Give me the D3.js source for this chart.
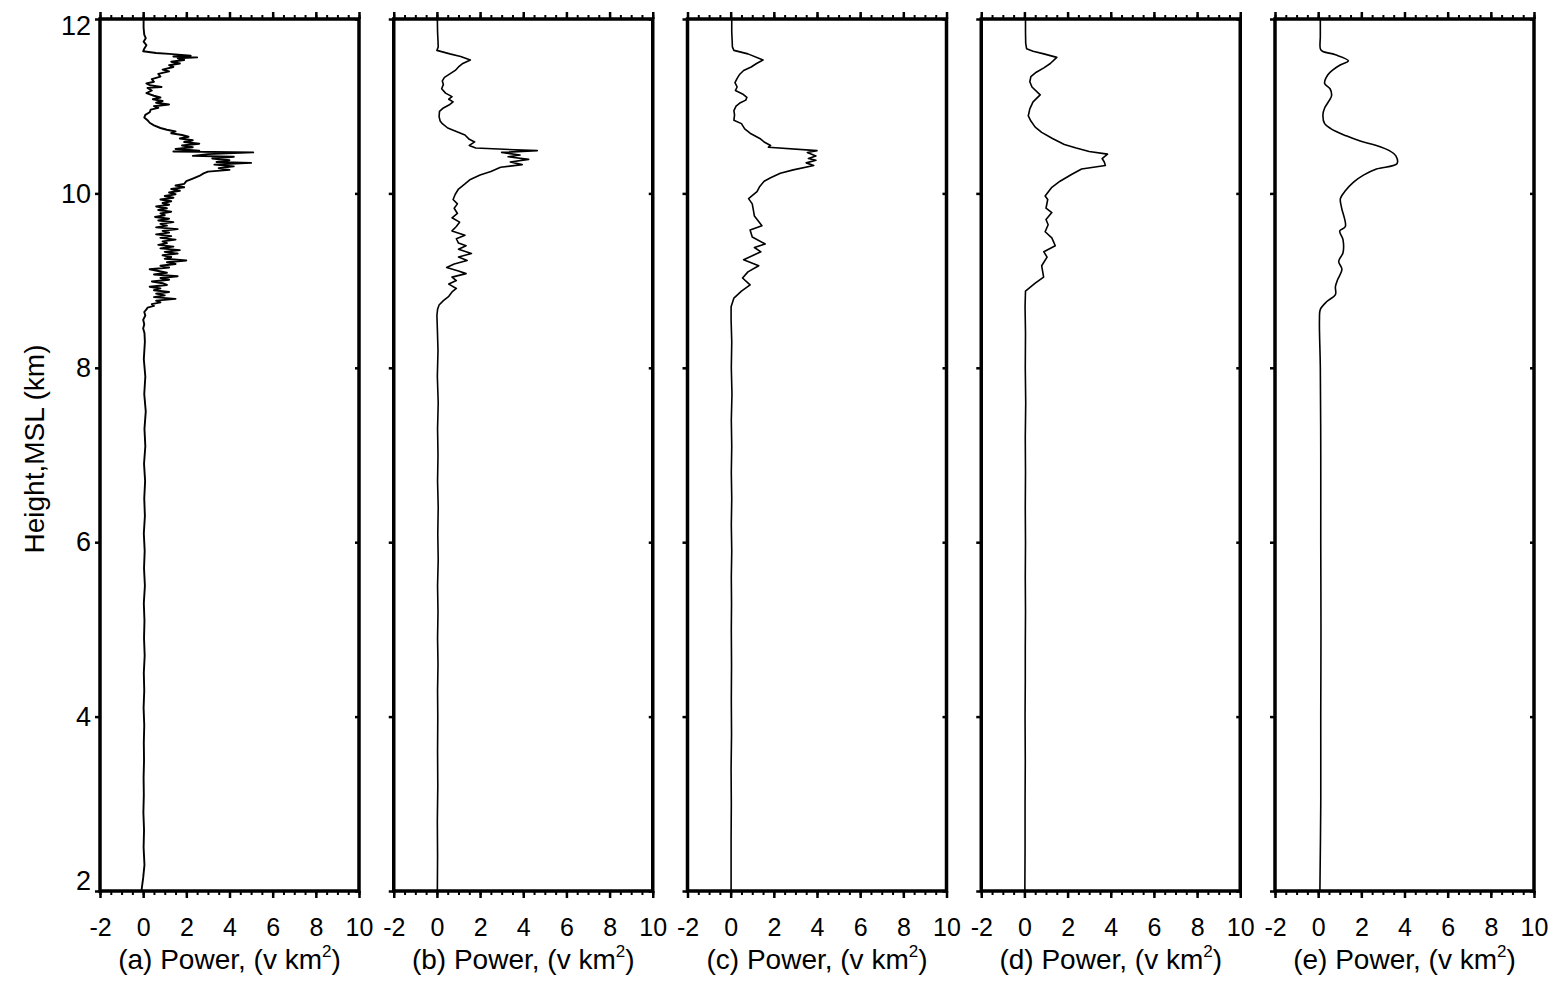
<!DOCTYPE html>
<html>
<head>
<meta charset="utf-8">
<script src="https://cdn.jsdelivr.net/npm/d3@7"></script>
<style>
  body { margin: 0; background: #fff; }
  svg { display: block; }
  text { font-family: "Liberation Sans", Arial, Helvetica, sans-serif; fill: #000; }
</style>
</head>
<body>
<svg id="chart" width="1560" height="981"></svg>
<script>
// Panel letters and axis ticks
const panelLetters = ["a", "b", "c", "d", "e"];
const powerTicks = [-2, 0, 2, 4, 6, 8, 10];
const heightTicks = [2, 4, 6, 8, 10, 12];

// Vertical power profiles, [height km MSL, power v km^2], top to bottom
const profileA = [
  [12.00, 0.02], [11.90, 0.02], [11.82, 0.05], [11.78, 0.12], [11.74, 0.02], [11.70, 0.15],
  [11.66, 0.05], [11.63, 0.00], [11.61, 0.6], [11.60, 1.2], [11.58, 2.2], [11.57, 1.4],
  [11.56, 2.5], [11.55, 1.6], [11.53, 1.9], [11.51, 1.3], [11.49, 1.7], [11.47, 1.2],
  [11.45, 1.4], [11.42, 0.9], [11.40, 1.2], [11.37, 0.7], [11.34, 0.8], [11.31, 0.4],
  [11.28, 0.5], [11.26, 0.15], [11.24, 0.3], [11.22, 0.85], [11.21, 0.2], [11.18, 0.4],
  [11.15, 0.15], [11.12, 0.5], [11.10, 0.8], [11.08, 0.45], [11.06, 0.9], [11.04, 0.6],
  [11.02, 1.2], [11.00, 0.5], [10.98, 0.7], [10.96, 0.35], [10.93, 0.3], [10.90, 0.1],
  [10.87, 0.05], [10.84, 0.2], [10.81, 0.3], [10.78, 0.5], [10.75, 0.8], [10.73, 1.1],
  [10.71, 1.5], [10.69, 1.3], [10.67, 1.8], [10.65, 2.1], [10.63, 1.7], [10.61, 2.3],
  [10.59, 1.9], [10.57, 2.6], [10.55, 1.8], [10.53, 2.3], [10.51, 1.5], [10.49, 2.6],
  [10.48, 1.4], [10.47, 5.1], [10.45, 3.0], [10.43, 2.3], [10.42, 4.2], [10.40, 3.2],
  [10.38, 4.0], [10.36, 3.4], [10.35, 5.0], [10.33, 3.3], [10.31, 4.2], [10.29, 3.5],
  [10.27, 4.0], [10.25, 3.0], [10.23, 2.8], [10.20, 2.6], [10.17, 2.3], [10.14, 2.0],
  [10.11, 1.9], [10.09, 1.5], [10.07, 1.9], [10.05, 1.3], [10.03, 1.7], [10.01, 1.2],
  [9.99, 1.5], [9.97, 1.0], [9.95, 1.4], [9.93, 0.8], [9.91, 1.3], [9.89, 0.9],
  [9.87, 1.2], [9.85, 0.6], [9.83, 1.1], [9.81, 0.7], [9.79, 1.3], [9.77, 0.8],
  [9.75, 1.0], [9.73, 0.55], [9.71, 1.2], [9.69, 0.7], [9.67, 1.4], [9.65, 0.8],
  [9.63, 1.1], [9.61, 0.6], [9.59, 1.6], [9.57, 0.9], [9.55, 1.2], [9.53, 0.6],
  [9.51, 1.3], [9.49, 0.8], [9.47, 1.5], [9.45, 0.9], [9.43, 1.1], [9.41, 0.7],
  [9.39, 1.4], [9.37, 0.8], [9.35, 1.7], [9.33, 1.0], [9.31, 1.6], [9.29, 0.9],
  [9.27, 1.3], [9.25, 1.0], [9.23, 2.0], [9.21, 1.1], [9.19, 1.5], [9.17, 0.8],
  [9.15, 1.2], [9.13, 0.3], [9.11, 0.7], [9.09, 1.1], [9.07, 0.5], [9.05, 1.6],
  [9.03, 0.8], [9.01, 1.2], [8.99, 0.4], [8.97, 0.9], [8.95, 1.1], [8.93, 0.3],
  [8.91, 0.8], [8.89, 0.5], [8.87, 1.2], [8.85, 0.6], [8.83, 1.0], [8.81, 0.5],
  [8.79, 1.5], [8.77, 0.6], [8.75, 0.8], [8.73, 0.4], [8.71, 0.5], [8.69, 0.2],
  [8.67, 0.15], [8.64, 0.05], [8.60, 0.1], [8.55, 0.0], [8.50, 0.05], [8.45, 0.0],
  [8.40, 0.06], [8.30, 0.08], [8.10, 0.03], [7.90, 0.10], [7.70, 0.05], [7.50, 0.12],
  [7.30, 0.06], [7.10, 0.10], [6.90, 0.04], [6.70, 0.09], [6.50, 0.05], [6.30, 0.08],
  [6.10, 0.03], [5.90, 0.07], [5.70, 0.04], [5.50, 0.08], [5.30, 0.03], [5.10, 0.06],
  [4.90, 0.04], [4.70, 0.07], [4.50, 0.03], [4.30, 0.05], [4.10, 0.02], [3.90, 0.05],
  [3.70, 0.03], [3.50, 0.04], [3.30, 0.02], [3.10, 0.03], [2.90, 0.01], [2.70, 0.04],
  [2.50, 0.02], [2.30, 0.06], [2.15, 0.0], [2.00, -0.08]
];

const profileB = [
  [12.00, 0.02], [11.85, 0.03], [11.75, 0.05], [11.68, 0.06], [11.64, 0.00], [11.60, 0.6],
  [11.57, 1.1], [11.53, 1.55], [11.49, 1.2], [11.45, 1.0], [11.41, 0.85], [11.37, 0.6],
  [11.33, 0.35], [11.29, 0.25], [11.25, 0.3], [11.20, 0.22], [11.15, 0.4], [11.11, 0.7],
  [11.08, 0.55], [11.05, 0.75], [11.02, 0.6], [10.98, 0.3], [10.94, 0.12], [10.88, 0.1],
  [10.83, 0.15], [10.80, 0.25], [10.75, 0.5], [10.71, 0.9], [10.67, 1.3], [10.62, 1.5],
  [10.59, 1.75], [10.55, 1.5], [10.52, 1.8], [10.49, 4.65], [10.47, 3.0], [10.44, 3.85],
  [10.42, 3.3], [10.39, 4.25], [10.36, 3.4], [10.33, 3.95], [10.30, 2.95], [10.25, 2.5],
  [10.21, 2.0], [10.16, 1.55], [10.11, 1.3], [10.05, 1.0], [9.99, 0.85], [9.93, 0.75],
  [9.88, 0.95], [9.83, 0.8], [9.77, 0.95], [9.72, 0.7], [9.67, 1.05], [9.62, 0.9],
  [9.57, 0.7], [9.52, 1.3], [9.48, 0.9], [9.43, 1.0], [9.40, 1.35], [9.36, 1.0],
  [9.31, 1.6], [9.27, 1.0], [9.23, 1.4], [9.19, 0.8], [9.15, 0.45], [9.11, 1.0],
  [9.08, 1.35], [9.04, 0.7], [9.00, 0.9], [8.96, 0.55], [8.91, 0.9], [8.87, 0.7],
  [8.82, 0.55], [8.77, 0.3], [8.72, 0.1], [8.67, 0.03], [8.60, 0.0], [8.45, 0.02],
  [8.20, 0.05], [7.90, 0.02], [7.60, 0.06], [7.30, 0.03], [7.00, 0.05], [6.70, 0.03],
  [6.40, 0.06], [6.10, 0.04], [5.80, 0.06], [5.50, 0.03], [5.20, 0.05], [4.90, 0.03],
  [4.60, 0.05], [4.30, 0.03], [4.00, 0.04], [3.60, 0.03], [3.20, 0.04], [2.80, 0.02],
  [2.40, 0.03], [2.00, 0.02]
];

const profileC = [
  [12.00, 0.05], [11.85, 0.05], [11.75, 0.07], [11.68, 0.08], [11.64, 0.15], [11.60, 0.8],
  [11.53, 1.5], [11.49, 1.2], [11.45, 0.95], [11.41, 0.6], [11.36, 0.4], [11.32, 0.3],
  [11.27, 0.2], [11.22, 0.3], [11.18, 0.22], [11.14, 0.55], [11.10, 0.75], [11.07, 0.7],
  [11.04, 0.45], [11.00, 0.25], [10.95, 0.15], [10.90, 0.18], [10.84, 0.15], [10.80, 0.5],
  [10.74, 0.65], [10.69, 0.9], [10.63, 1.35], [10.59, 1.55], [10.55, 1.85], [10.53, 1.75],
  [10.49, 4.0], [10.47, 3.55], [10.43, 3.95], [10.40, 3.6], [10.38, 3.95], [10.35, 3.5],
  [10.32, 3.85], [10.27, 2.9], [10.23, 2.3], [10.18, 1.85], [10.14, 1.55], [10.08, 1.35],
  [10.02, 1.22], [9.94, 0.83], [9.88, 1.0], [9.81, 1.05], [9.74, 1.1], [9.63, 1.45],
  [9.58, 0.9], [9.50, 1.0], [9.42, 1.6], [9.38, 1.1], [9.33, 1.4], [9.24, 0.6],
  [9.17, 1.3], [9.10, 0.8], [9.03, 0.55], [8.95, 0.9], [8.88, 0.5], [8.80, 0.15],
  [8.70, 0.02], [8.55, 0.02], [8.30, 0.05], [8.00, 0.03], [7.70, 0.06], [7.40, 0.03],
  [7.10, 0.05], [6.80, 0.03], [6.50, 0.05], [6.20, 0.03], [5.90, 0.05], [5.60, 0.03],
  [5.30, 0.04], [5.00, 0.03], [4.60, 0.04], [4.20, 0.03], [3.80, 0.04], [3.40, 0.02],
  [3.00, 0.03], [2.60, 0.02], [2.00, 0.02]
];

const profileD = [
  [12.00, 0.05], [11.85, 0.05], [11.72, 0.06], [11.66, 0.1], [11.63, 0.4], [11.60, 0.9],
  [11.56, 1.5], [11.49, 1.2], [11.44, 0.9], [11.39, 0.55], [11.34, 0.3], [11.28, 0.25],
  [11.22, 0.35], [11.13, 0.73], [11.05, 0.4], [10.97, 0.25], [10.89, 0.18], [10.83, 0.3],
  [10.76, 0.5], [10.70, 0.8], [10.63, 1.3], [10.56, 1.85], [10.52, 2.4], [10.48, 3.0],
  [10.45, 3.85], [10.40, 3.6], [10.36, 3.7], [10.32, 3.75], [10.28, 2.65], [10.22, 2.2],
  [10.14, 1.65], [10.07, 1.27], [9.97, 0.96], [9.93, 1.08], [9.83, 1.0], [9.78, 1.27],
  [9.70, 1.0], [9.64, 1.1], [9.56, 0.96], [9.49, 1.27], [9.40, 1.43], [9.33, 0.9],
  [9.27, 1.05], [9.17, 0.8], [9.04, 0.89], [8.97, 0.5], [8.88, 0.05], [8.70, 0.03],
  [8.40, 0.05], [8.00, 0.04], [7.60, 0.06], [7.20, 0.04], [6.80, 0.05], [6.40, 0.04],
  [6.00, 0.05], [5.60, 0.04], [5.20, 0.05], [4.80, 0.04], [4.40, 0.04], [4.00, 0.03],
  [3.50, 0.04], [3.00, 0.03], [2.50, 0.03], [2.00, 0.02]
];

const profileE = [
  [12.00, 0.1], [11.80, 0.1], [11.66, 0.1], [11.63, 0.2], [11.59, 0.8], [11.52, 1.4],
  [11.47, 1.0], [11.42, 0.7], [11.36, 0.45], [11.26, 0.3], [11.20, 0.55], [11.12, 0.62],
  [11.06, 0.5], [10.98, 0.3], [10.90, 0.22], [10.80, 0.3], [10.74, 0.6], [10.66, 1.3],
  [10.60, 1.95], [10.55, 2.7], [10.49, 3.3], [10.43, 3.6], [10.34, 3.65], [10.28, 2.7],
  [10.21, 2.1], [10.13, 1.64], [10.03, 1.26], [9.94, 1.03], [9.84, 1.08], [9.62, 1.26],
  [9.57, 1.0], [9.47, 1.15], [9.32, 1.15], [9.22, 0.95], [9.13, 1.1], [9.01, 0.9],
  [8.93, 0.8], [8.84, 0.8], [8.76, 0.4], [8.67, 0.1], [8.55, 0.06], [8.00, 0.1],
  [7.00, 0.12], [6.00, 0.12], [5.00, 0.13], [4.00, 0.12], [3.00, 0.12], [2.00, 0.08]
];

const profiles = [profileA, profileB, profileC, profileD, profileE];
const profileCurves = [d3.curveLinear, d3.curveLinear, d3.curveLinear, d3.curveLinear, d3.curveCatmullRom];

// Layout
const frameTop = 19, frameBottom = 891;
const firstLeft = 100, panelStep = 293.75, panelWidth = 259;
const minorPower = d3.range(-2, 10.001, 0.5);

const svg = d3.select("#chart");
const y = d3.scaleLinear().domain([2, 12]).range([frameBottom, frameTop]);

function styleAxis(sel, width) {
  sel.select(".domain").remove();
  sel.selectAll(".tick line").attr("stroke", "#000").attr("stroke-width", width);
}

profiles.forEach((prof, i) => {
  const left = firstLeft + i * panelStep;
  const right = left + panelWidth;
  const x = d3.scaleLinear().domain([-2, 10]).range([left, right]);
  const g = svg.append("g").attr("class", "panel");

  // profile trace
  const line = d3.line()
    .x(d => x(d[1]))
    .y(d => y(d[0]))
    .curve(profileCurves[i]);
  g.append("path")
    .datum(prof)
    .attr("d", line)
    .attr("fill", "none")
    .attr("stroke", "#000")
    .attr("stroke-width", i === 0 ? 1.9 : 1.6)
    .attr("stroke-linejoin", "round");

  // top edge ticks (minor + major, pointing out)
  g.append("g").attr("transform", `translate(0,${frameTop})`)
    .call(d3.axisTop(x).tickValues(minorPower).tickSize(4).tickFormat(""))
    .call(s => styleAxis(s, 2));
  g.append("g").attr("transform", `translate(0,${frameTop})`)
    .call(d3.axisTop(x).tickValues(powerTicks).tickSize(7).tickFormat(""))
    .call(s => styleAxis(s, 2.5));

  // bottom edge ticks and labels
  g.append("g").attr("transform", `translate(0,${frameBottom})`)
    .call(d3.axisBottom(x).tickValues(minorPower).tickSize(4).tickFormat(""))
    .call(s => styleAxis(s, 2));
  const bx = g.append("g").attr("transform", `translate(0,${frameBottom})`)
    .call(d3.axisBottom(x).tickValues(powerTicks).tickSize(7).tickPadding(20).tickFormat(d => String(d)))
    .call(s => styleAxis(s, 2.5));
  bx.selectAll("text").attr("font-size", 25).attr("font-family", null);

  // height ticks on both vertical edges
  const ly = g.append("g").attr("transform", `translate(${left},0)`)
    .call(d3.axisLeft(y).tickValues(heightTicks).tickSize(5).tickPadding(4)
      .tickFormat(i === 0 ? (d => String(d)) : ""))
    .call(s => styleAxis(s, 2.5));
  if (i === 0) {
    ly.selectAll("text")
      .attr("font-size", 27)
      .attr("font-family", null)
      .attr("y", d => d === 12 ? 7 : d === 2 ? -10 : 0);
  }
  g.append("g").attr("transform", `translate(${right},0)`)
    .call(d3.axisLeft(y).tickValues(heightTicks).tickSize(4).tickFormat(""))
    .call(s => styleAxis(s, 2.5));

  // frame
  g.append("rect")
    .attr("x", left).attr("y", frameTop)
    .attr("width", panelWidth).attr("height", frameBottom - frameTop)
    .attr("fill", "none").attr("stroke", "#000").attr("stroke-width", 3.5);

  // panel caption
  const cap = g.append("text")
    .attr("x", (left + right) / 2)
    .attr("y", 969)
    .attr("text-anchor", "middle")
    .attr("font-size", 28);
  cap.append("tspan").text(`(${panelLetters[i]}) Power, (v km`);
  cap.append("tspan").attr("font-size", 17).attr("dy", -12).text("2");
  cap.append("tspan").attr("dy", 12).text(")");
});

// height axis title
svg.append("text")
  .attr("transform", `translate(44,${(frameTop + frameBottom) / 2 - 6}) rotate(-90)`)
  .attr("text-anchor", "middle")
  .attr("font-size", 28)
  .text("Height,MSL (km)");
</script>
</body>
</html>
